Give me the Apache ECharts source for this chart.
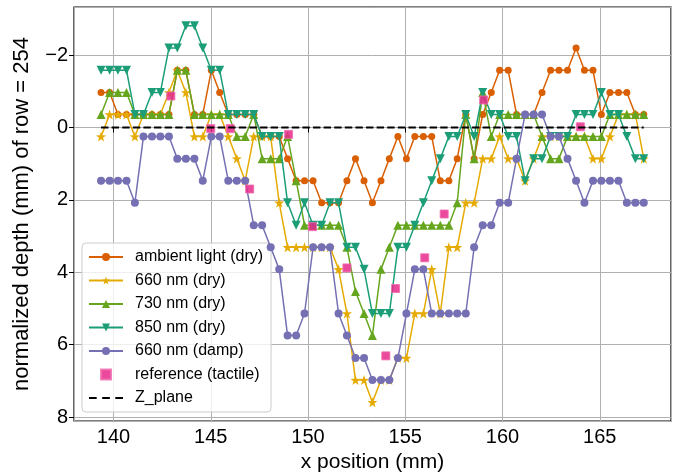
<!DOCTYPE html>
<html>
<head>
<meta charset="utf-8">
<style>
  html, body { margin: 0; padding: 0; background: #fff; }
  #depth-chart { width: 678px; height: 475px; }
</style>
<script src="https://cdn.jsdelivr.net/npm/echarts@6/dist/echarts.min.js"></script>
</head>
<body>
<div id="depth-chart"></div>
<script>
// sample positions along the row (mm)
const xPos = [
  139.36, 139.80, 140.23, 140.67, 141.10, 141.54, 141.98, 142.41, 142.85, 143.28,
  143.72, 144.16, 144.59, 145.03, 145.46, 145.90, 146.34, 146.77, 147.21, 147.64,
  148.08, 148.52, 148.95, 149.39, 149.82, 150.26, 150.70, 151.13, 151.57, 152.00,
  152.44, 152.88, 153.31, 153.75, 154.18, 154.62, 155.06, 155.49, 155.93, 156.36,
  156.80, 157.24, 157.67, 158.11, 158.54, 158.98, 159.42, 159.85, 160.29, 160.72,
  161.16, 161.60, 162.03, 162.47, 162.90, 163.34, 163.78, 164.21, 164.65, 165.08,
  165.52, 165.96, 166.39, 166.83, 167.26
];

const ambientDry = [
  -0.97, -0.97, -0.36, -0.36, -0.36, -0.36, -0.36, -0.36, -0.36, -1.58,
  -1.58, -0.36, -0.36, -1.58, -0.97, -0.36, -0.36, -0.36, -0.36, 0.25,
  0.25, 0.25, 0.86, 1.47, 1.47, 1.47, 2.08, 2.08, 2.08, 1.47,
  0.86, 1.47, 2.08, 1.47, 0.86, 0.25, 0.86, 0.25, 0.25, 0.25,
  1.47, 1.47, 0.86, -0.36, 0.86, -0.36, -0.97, -1.58, -1.58, -0.36,
  -0.36, -0.36, -0.97, -1.58, -1.58, -1.58, -2.20, -1.58, -1.58, -0.36,
  -0.97, -0.97, -0.97, -0.36, -0.36
];

const nm660Dry = [
  0.25, -0.36, -0.36, -0.36, 0.25, -0.36, -0.36, -0.36, -0.97, -1.58,
  -0.97, 0.25, 0.25, -0.36, -0.36, 0.25, 0.86, 1.47, 0.25, 0.25,
  0.25, 2.08, 3.31, 3.31, 3.31, 3.31, 3.31, 3.31, 3.92, 5.14,
  6.98, 6.98, 7.59, 6.98, 6.98, 6.37, 6.37, 5.14, 5.14, 3.92,
  5.14, 3.31, 3.31, 2.08, 2.08, 0.86, 0.86, 0.25, 0.86, 0.86,
  1.47, 0.86, 0.25, 0.25, 0.25, 0.25, 0.25, 0.25, 0.86, 0.86,
  0.25, -0.36, -0.36, -0.36, 0.86
];

const nm730Dry = [
  -0.36, -0.97, -0.97, -0.97, -0.36, -0.36, -0.36, -0.36, -0.36, -1.58,
  -1.58, -0.36, -0.36, -0.36, -0.36, -0.36, 0.25, 0.25, -0.36, 0.86,
  0.86, 0.86, 0.25, 1.47, 2.70, 2.70, 2.70, 2.70, 2.70, 3.31,
  4.53, 5.14, 5.75, 3.92, 3.31, 2.70, 2.70, 2.70, 2.70, 2.70,
  2.70, 2.70, 2.08, -0.36, 0.86, -0.97, 0.25, -0.36, -0.36, -0.36,
  -0.36, -0.36, 0.25, 0.86, 0.86, 0.25, 0.25, 0.25, 0.25, 0.25,
  -0.36, -0.36, -0.36, -0.36, -0.36
];

const nm850Dry = [
  -1.58, -1.58, -1.58, -1.58, -0.36, -0.36, -0.97, -0.97, -2.20, -2.20,
  -2.81, -2.81, -2.20, -1.58, -1.58, -0.36, -0.36, -0.36, -0.36, 0.25,
  0.25, 0.25, 2.08, 2.70, 2.08, 2.70, 2.70, 2.08, 2.08, 3.31,
  3.31, 3.92, 5.14, 5.14, 5.14, 3.31, 3.31, 2.70, 2.08, 1.47,
  0.86, 0.25, 0.25, -0.36, 0.25, -0.97, -0.36, -0.36, 0.25, 0.25,
  1.47, 0.86, 0.86, 0.25, 0.25, 0.25, -0.36, -0.36, -0.36, -0.97,
  -0.36, -0.36, 0.25, 0.86, 0.86
];

const nm660Damp = [
  1.47, 1.47, 1.47, 1.47, 2.08, 0.25, 0.25, 0.25, 0.25, 0.86,
  0.86, 0.86, 1.47, 0.25, 0.25, 1.47, 1.47, 1.47, 2.70, 2.70,
  3.31, 3.92, 5.75, 5.75, 5.14, 3.31, 3.31, 3.31, 5.14, 5.75,
  6.37, 6.37, 6.98, 6.98, 6.98, 6.37, 5.14, 3.92, 3.92, 5.14,
  5.14, 5.14, 5.14, 5.14, 3.31, 2.70, 2.70, 2.08, 2.08, 0.86,
  -0.36, -0.36, -0.36, 0.25, 0.25, 0.86, 1.47, 2.08, 1.47, 1.47,
  1.47, 1.47, 2.08, 2.08, 2.08
];

// tactile reference probes
const refX = [142.95, 145.0, 146.0, 147.0, 149.0, 150.23, 152.0, 154.0, 154.5, 156.0, 157.0, 159.03, 164.0];
const refY = [-0.87, 0.03, 0.03, 1.70, 0.19, 2.74, 3.88, 6.31, 4.45, 3.60, 2.39, -0.76, -0.02];

const zPlaneX = [139.36, 167.26];
const zPlaneY = [0, 0];

const xTicks = [140, 145, 150, 155, 160, 165];
const yTicks = [-2, 0, 2, 4, 6, 8];

const STAR = "path://M0,-10L2.35,-3.24L9.51,-3.09L3.8,1.24L5.88,8.09L0,4L-5.88,8.09L-3.8,1.24L-9.51,-3.09L-2.35,-3.24Z";
const TRI_DOWN = "path://M0,0L10,0L5,9Z";
const SQUARE = "path://M0,0h10v10h-10z";
const DASHES = "path://M0,0h7v2h-7zM12,0h7v2h-7zM24,0h7v2h-7z";

let pairs = (xs, ys) => xs.map((x, i) => [x, ys[i]]);

let lineSeries = (name, ys, color, symbol, size, z) => ({
  name: name,
  type: "line",
  data: pairs(xPos, ys),
  symbol: symbol,
  symbolSize: size,
  showAllSymbol: true,
  z: z,
  color: color,
  lineStyle: { width: 1.5, color: color },
  itemStyle: { color: color },
});

let initChart = () => {
  let chart = echarts.init(document.getElementById("depth-chart"), null, { renderer: "canvas" });
  const font = "'Liberation Sans', Arial, sans-serif";

  var option = {
    animation: false,
    textStyle: { fontFamily: font },
    grid: {
      left: 74,
      right: 7,
      top: 7,
      bottom: 54,
      show: true,
      borderColor: "#000",
      borderWidth: 1.2,
      outerBoundsMode: "none",
    },
    xAxis: {
      type: "value",
      min: 137.97,
      max: 168.66,
      minInterval: 5,
      maxInterval: 5,
      name: "x position (mm)",
      nameLocation: "middle",
      nameGap: 30,
      nameTextStyle: { color: "#000", fontSize: 21, fontFamily: font },
      axisLine: { show: false },
      axisTick: { show: true, length: 5, lineStyle: { color: "#000" } },
      axisLabel: {
        color: "#000",
        fontSize: 20,
        margin: 6,
        fontFamily: font,
        showMinLabel: false,
        showMaxLabel: false,
        formatter: (v) => (xTicks.includes(Math.round(v * 100) / 100) ? String(v) : ""),
      },
      splitLine: { show: true, lineStyle: { color: "#b0b0b0", width: 1 } },
    },
    yAxis: {
      type: "value",
      inverse: true,
      min: -3.33,
      max: 8.11,
      minInterval: 2,
      maxInterval: 2,
      name: "normalized depth (mm) of row = 254",
      nameLocation: "middle",
      nameGap: 41,
      nameTextStyle: { color: "#000", fontSize: 22, fontFamily: font },
      axisLine: { show: false },
      axisTick: { show: true, length: 5, lineStyle: { color: "#000" } },
      axisLabel: {
        color: "#000",
        fontSize: 20,
        margin: 6,
        fontFamily: font,
        showMinLabel: false,
        showMaxLabel: false,
        formatter: (v) => (yTicks.includes(Math.round(v * 100) / 100) ? (v < 0 ? "\u2212" + Math.abs(v) : String(v)) : ""),
      },
      splitLine: { show: true, lineStyle: { color: "#b0b0b0", width: 1 } },
    },
    legend: {
      orient: "vertical",
      left: 82,
      top: 243,
      padding: [6, 8, 6, 6],
      itemWidth: 34,
      itemHeight: 10,
      itemGap: 7.5,
      backgroundColor: "rgba(255,255,255,0.8)",
      borderColor: "#cccccc",
      borderWidth: 1,
      borderRadius: 4,
      selectedMode: false,
      textStyle: { color: "#000", fontSize: 16, lineHeight: 16, fontFamily: font, padding: [0, 0, 0, 7] },
      data: [
        "ambient light (dry)",
        "660 nm (dry)",
        "730 nm (dry)",
        "850 nm (dry)",
        "660 nm (damp)",
        { name: "reference (tactile)", icon: SQUARE },
        { name: "Z_plane", icon: DASHES },
      ],
    },
    series: [
      lineSeries("ambient light (dry)", ambientDry, "#d95f02", "circle", 7, 2),
      lineSeries("660 nm (dry)", nm660Dry, "#e6ab02", STAR, 10, 3),
      lineSeries("730 nm (dry)", nm730Dry, "#66a61e", "triangle", 9, 4),
      lineSeries("850 nm (dry)", nm850Dry, "#1b9e77", TRI_DOWN, 9, 5),
      lineSeries("660 nm (damp)", nm660Damp, "#7570b3", "circle", 8, 6),
      {
        name: "reference (tactile)",
        type: "scatter",
        data: pairs(refX, refY),
        symbol: "rect",
        symbolSize: 8,
        z: 7,
        itemStyle: { color: "#e7298a", opacity: 0.85, borderColor: "#f06fb0", borderWidth: 1 },
      },
      {
        name: "Z_plane",
        type: "line",
        data: pairs(zPlaneX, zPlaneY),
        showSymbol: false,
        symbol: "none",
        z: 8,
        color: "#000",
        itemStyle: { color: "#000" },
        lineStyle: { color: "#000", width: 2, type: [7.4, 3.2] },
      },
    ],
  };

  chart.setOption(option);
  window.onresize = function () {
    chart.resize();
  };
};

initChart();
</script>
</body>
</html>
